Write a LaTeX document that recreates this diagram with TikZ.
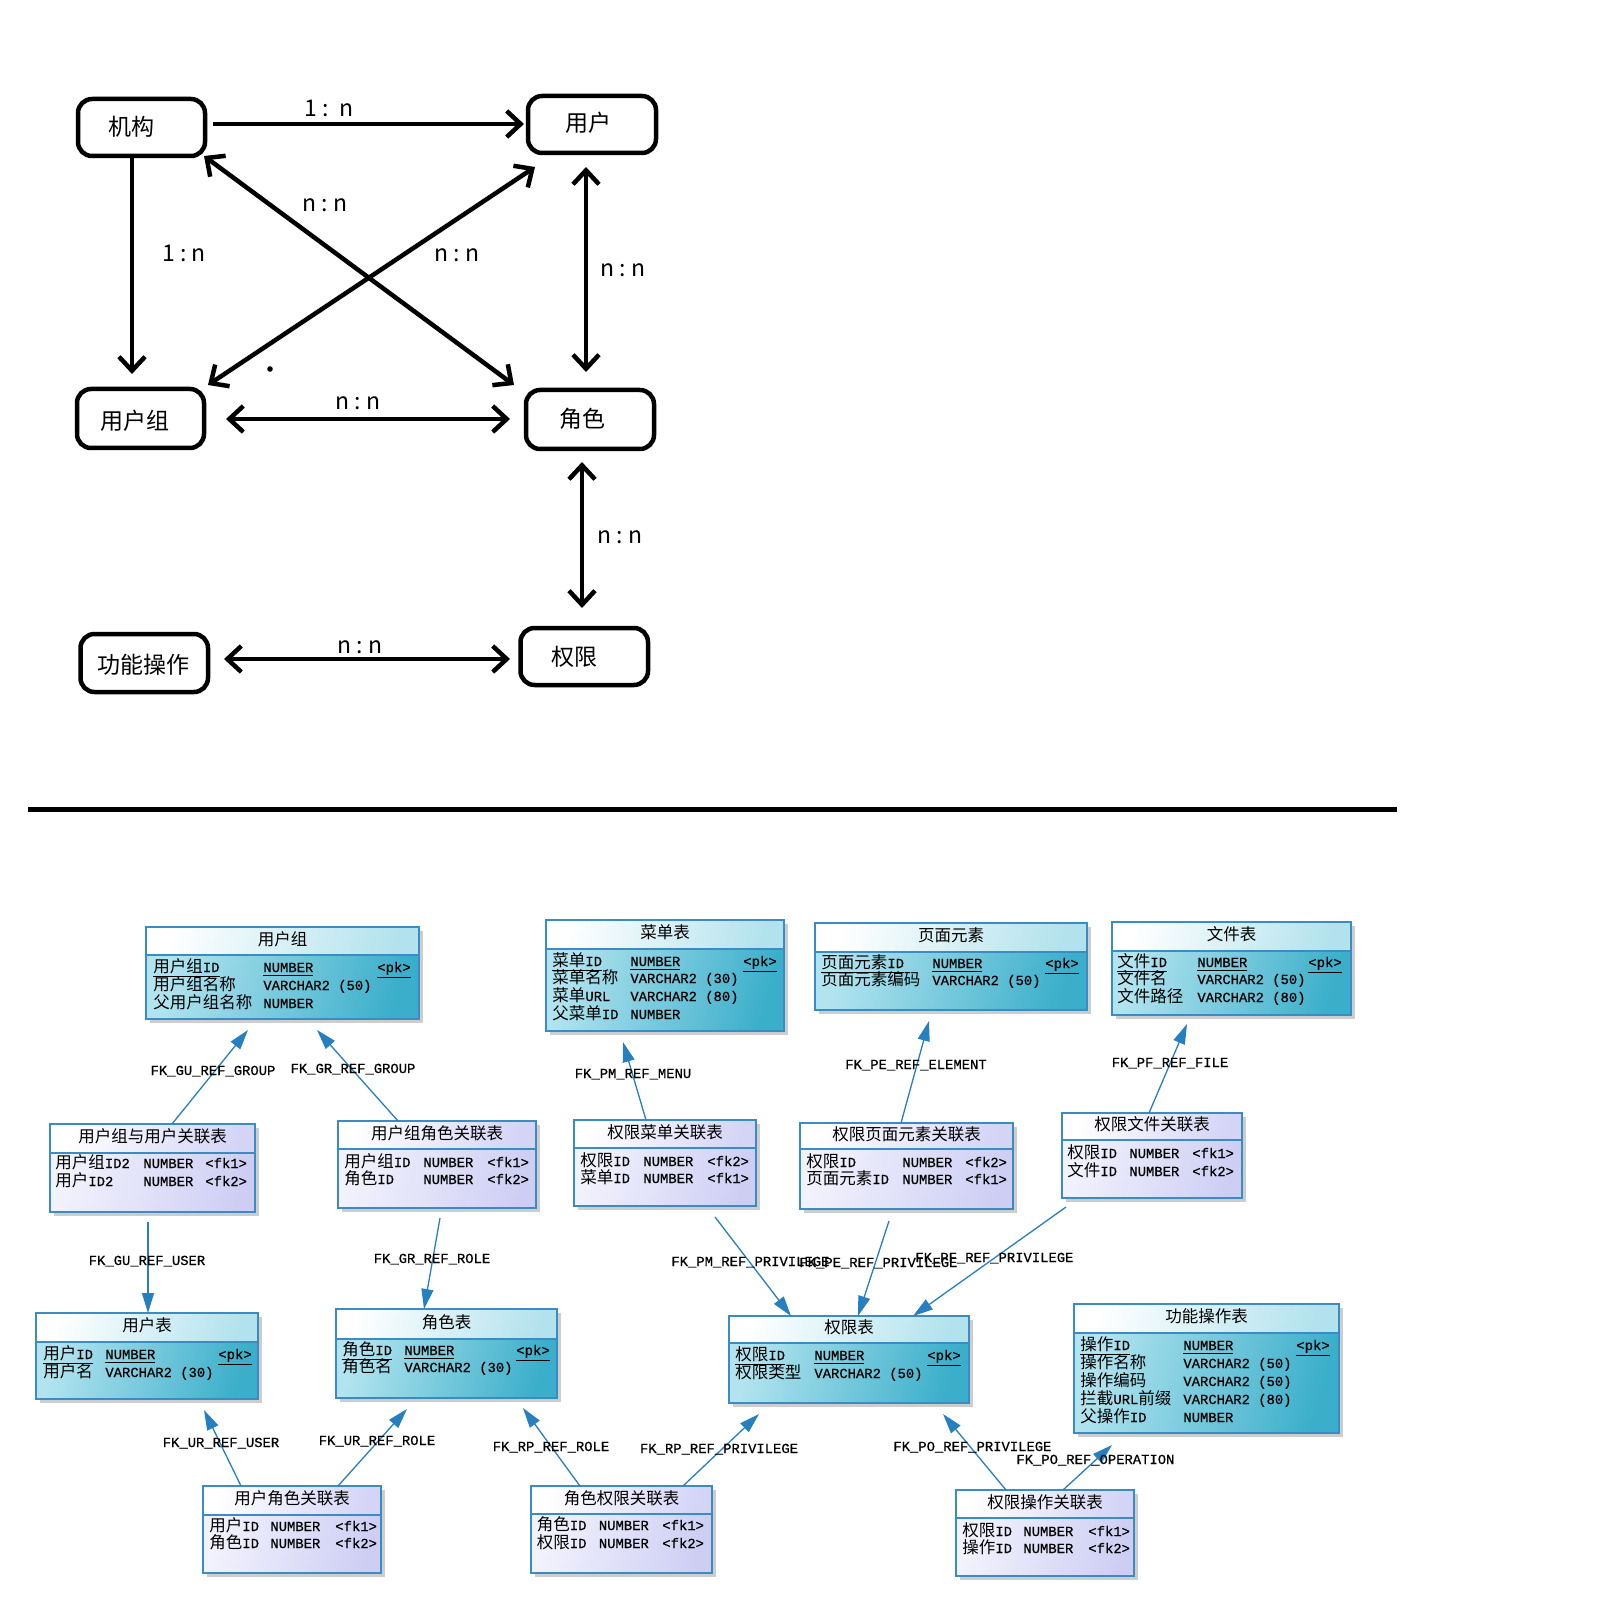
\documentclass[tikz,border=0pt]{standalone}
\usepackage{fontspec}
\setmainfont{Liberation Sans}
\newfontfamily\cjkf{Noto Sans CJK SC}
\newfontfamily\ermono[Scale=0.84,FakeBold=0.6]{Liberation Mono}
\usetikzlibrary{arrows.meta,fit}
\definecolor{erblue}{RGB}{58,140,196}
\definecolor{fkblue}{RGB}{38,128,192}
\definecolor{mainhr}{RGB}{178,226,237}
\definecolor{mainbl}{RGB}{178,228,239}
\definecolor{mainbr}{RGB}{58,174,202}
\definecolor{linkhr}{RGB}{212,212,247}
\definecolor{linkbl}{RGB}{242,242,253}
\definecolor{linkbr}{RGB}{206,206,244}
\definecolor{shadowc}{RGB}{205,205,205}
% automatic switch between CJK and Latin fonts
\chardef\CJKcls=50
\newcount\cjkc
\cjkc="4E00
\loop
\XeTeXcharclass\cjkc=\CJKcls
\advance\cjkc by 1
\ifnum\cjkc<"A000
\repeat
\def\latf{}
\XeTeXinterchartoks 0 \CJKcls = {\cjkf}
\XeTeXinterchartoks 4095 \CJKcls = {\cjkf}
\XeTeXinterchartoks \CJKcls 0 = {\latf}
\XeTeXinterchartoks \CJKcls 4095 = {\latf}
\XeTeXinterchartokenstate=1
\newcommand\erfont{\fontsize{8.25pt}{9pt}\selectfont\def\latf{\ermono}\latf}
\newcommand\topfont{\fontsize{11.5pt}{13pt}\selectfont\def\latf{\cjkf}\latf}
\newcount\cellno
\newcommand\ul[1]{\underline{#1}}
% name, left, top, right, bottom, divider, kind, title
\newcommand\ertab[8]{%
  \fill[shadowc] (#2+4,#3+4) rectangle (#4+4,#5+4);
  \shade[#7head] (#2,#3) rectangle (#4,#6);
  \shade[#7body] (#2,#6) rectangle (#4,#5);
  \node[tabframe, fit={(#2,#3) (#4,#5)}] (#1) {};
  \draw[erline] (#2,#6) -- (#4,#6);
  \node[ertitle] (#1-title) at ({(#2+#4)/2},{(#3+#6)/2-1}) {#8};
}
\newcommand\cell[3]{\global\advance\cellno by 1\relax
  \node[cell,name=cell\the\cellno] at (#1,#2) {#3};}
\newcommand\fk[3]{\coordinate (#1s) at (#2); \coordinate (#1e) at (#3);
  \draw[fkline] (#1s) -- (#1e);}
\newcommand\fkl[4][center]{\node[fklab,anchor=#1] (#2) at (#3) {#4};}
\begin{document}
\begin{tikzpicture}[x=0.5pt,y=-0.5pt,
  mybarb/.tip={Straight Barb[length=7pt,width=13pt]},
  fktip/.tip={Triangle[length=10pt,width=6pt]},
  topbox/.style={draw=black,line width=2.25pt,rounded corners=7pt,inner sep=0pt},
  toptext/.style={inner sep=0pt,font=\topfont},
  toparrow/.style={draw=black,line width=2.25pt},
  tabframe/.style={draw=erblue,line width=1pt,inner sep=0pt},
  erline/.style={draw=erblue,line width=1pt},
  mainhead/.style={left color=white,right color=mainhr,shading angle=75},
  mainbody/.style={left color=mainbl,right color=mainbr,shading angle=75},
  linkhead/.style={left color=white,right color=linkhr,shading angle=75},
  linkbody/.style={left color=linkbl,right color=linkbr,shading angle=75},
  ertitle/.style={inner sep=0pt,text height=6.5pt,text depth=1.5pt,font=\erfont},
  cell/.style={anchor=west,inner sep=0pt,text height=6.5pt,text depth=1.5pt,font=\erfont},
  fklab/.style={inner sep=0pt,text height=6.5pt,text depth=1.5pt,font=\erfont},
  fkline/.style={draw=fkblue,line width=0.65pt,-fktip},
]
\fill[white] (0,0) rectangle (1604,1604);
\useasboundingbox (0,0) rectangle (1604,1604);

% ---------------- top diagram ----------------
\node[topbox, fit={(78,99) (205,156)}] (jg) {};
\node[toptext] (jgt) at (131,127) {机构};
\node[topbox, fit={(528,96) (656,153)}] (yh) {};
\node[toptext] (yht) at (588,123) {用户};
\node[topbox, fit={(77,389) (204,448)}] (yhz) {};
\node[toptext] (yhzt) at (135,421) {用户组};
\node[topbox, fit={(526,390) (654,449)}] (js) {};
\node[toptext] (jst) at (582,419) {角色};
\node[topbox, fit={(80.5,634) (208,692)}] (gn) {};
\node[toptext] (gnt) at (143,665) {功能操作};
\node[topbox, fit={(520.5,628) (648,685)}] (qx) {};
\node[toptext] (qxt) at (574,657) {权限};

\coordinate (a1s) at (213,124); \coordinate (a1e) at (524,124);
\draw[toparrow,-mybarb] (a1s) -- (a1e);
\coordinate (a2s) at (132,158); \coordinate (a2e) at (132,374);
\draw[toparrow,-mybarb] (a2s) -- (a2e);
\coordinate (a3s) at (226,419); \coordinate (a3e) at (510,419);
\draw[toparrow,mybarb-mybarb] (a3s) -- (a3e);
\coordinate (a4s) at (204,156); \coordinate (a4e) at (514,385);
\draw[toparrow,mybarb-mybarb] (a4s) -- (a4e);
\coordinate (a5s) at (208,385); \coordinate (a5e) at (535,167);
\draw[toparrow,mybarb-mybarb] (a5s) -- (a5e);
\coordinate (a6s) at (586,167); \coordinate (a6e) at (586,372);
\draw[toparrow,mybarb-mybarb] (a6s) -- (a6e);
\coordinate (a7s) at (582,462); \coordinate (a7e) at (582,608);
\draw[toparrow,mybarb-mybarb] (a7s) -- (a7e);
\coordinate (a8s) at (224,659); \coordinate (a8e) at (510,659);
\draw[toparrow,mybarb-mybarb] (a8s) -- (a8e);
\fill (270,369) circle (1.4pt);

\node[toptext] (l1) at (329,108) {1\ :\ \ n};
\node[toptext] (l2) at (184,253) {1\ :\ n};
\node[toptext] (l3) at (358,403) {n\ :\ n};
\node[toptext] (l4) at (325,205) {n\ :\ n};
\node[toptext] (l5) at (457,255) {n\ :\ n};
\node[toptext] (l6) at (623,270) {n\ :\ n};
\node[toptext] (l7) at (620,537) {n\ :\ n};
\node[toptext] (l8) at (360,647) {n\ :\ n};

\coordinate (sepl) at (28,809.5); \coordinate (sepr) at (1397,809.5);
\draw[line width=2.75pt] (sepl) -- (sepr);

% ---------------- ER diagram ----------------
\ertab{t1}{146}{927}{419}{1019}{955}{main}{用户组}
\cell{153}{967}{\ul{用户组ID}}\cell{263}{967}{\ul{NUMBER}}\cell{377}{967}{\ul{<pk>}}
\cell{153}{985}{用户组名称}\cell{263}{985}{VARCHAR2 (50)}
\cell{153}{1003}{父用户组名称}\cell{263}{1003}{NUMBER}

\ertab{t2}{546}{920}{784}{1031}{949}{main}{菜单表}
\cell{552}{961}{\ul{菜单ID}}\cell{630}{961}{\ul{NUMBER}}\cell{743}{961}{\ul{<pk>}}
\cell{552}{978}{菜单名称}\cell{630}{978}{VARCHAR2 (30)}
\cell{552}{996}{菜单URL}\cell{630}{996}{VARCHAR2 (80)}
\cell{552}{1014}{父菜单ID}\cell{630}{1014}{NUMBER}

\ertab{t3}{815}{923}{1087}{1010}{952}{main}{页面元素}
\cell{821}{963}{\ul{页面元素ID}}\cell{932}{963}{\ul{NUMBER}}\cell{1045}{963}{\ul{<pk>}}
\cell{821}{980}{页面元素编码}\cell{932}{980}{VARCHAR2 (50)}

\ertab{t4}{1112}{922}{1351}{1015}{951}{main}{文件表}
\cell{1117}{962}{\ul{文件ID}}\cell{1197}{962}{\ul{NUMBER}}\cell{1308}{962}{\ul{<pk>}}
\cell{1117}{979}{文件名}\cell{1197}{979}{VARCHAR2 (50)}
\cell{1117}{997}{文件路径}\cell{1197}{997}{VARCHAR2 (80)}

\ertab{t5}{50}{1124}{255}{1212}{1153}{link}{用户组与用户关联表}
\cell{55}{1163}{用户组ID2}\cell{143}{1163}{NUMBER}\cell{205}{1163}{<fk1>}
\cell{55}{1181}{用户ID2}\cell{143}{1181}{NUMBER}\cell{205}{1181}{<fk2>}

\ertab{t6}{338}{1121}{536}{1208}{1149}{link}{用户组角色关联表}
\cell{344}{1162}{用户组ID}\cell{423}{1162}{NUMBER}\cell{487}{1162}{<fk1>}
\cell{344}{1179}{角色ID}\cell{423}{1179}{NUMBER}\cell{487}{1179}{<fk2>}

\ertab{t7}{574}{1120}{756}{1206}{1148}{link}{权限菜单关联表}
\cell{580}{1161}{权限ID}\cell{643}{1161}{NUMBER}\cell{707}{1161}{<fk2>}
\cell{580}{1178}{菜单ID}\cell{643}{1178}{NUMBER}\cell{707}{1178}{<fk1>}

\ertab{t8}{800}{1123}{1013}{1209}{1149}{link}{权限页面元素关联表}
\cell{806}{1162}{权限ID}\cell{902}{1162}{NUMBER}\cell{965}{1162}{<fk2>}
\cell{806}{1179}{页面元素ID}\cell{902}{1179}{NUMBER}\cell{965}{1179}{<fk1>}

\ertab{t9}{1062}{1113}{1242}{1198}{1140}{link}{权限文件关联表}
\cell{1067}{1153}{权限ID}\cell{1129}{1153}{NUMBER}\cell{1192}{1153}{<fk1>}
\cell{1067}{1171}{文件ID}\cell{1129}{1171}{NUMBER}\cell{1192}{1171}{<fk2>}

\ertab{t10}{36}{1313}{258}{1399}{1342}{main}{用户表}
\cell{43}{1354}{\ul{用户ID}}\cell{105}{1354}{\ul{NUMBER}}\cell{218}{1354}{\ul{<pk>}}
\cell{43}{1372}{用户名}\cell{105}{1372}{VARCHAR2 (30)}

\ertab{t11}{336}{1309}{557}{1398}{1339}{main}{角色表}
\cell{342}{1350}{\ul{角色ID}}\cell{404}{1350}{\ul{NUMBER}}\cell{516}{1350}{\ul{<pk>}}
\cell{342}{1367}{角色名}\cell{404}{1367}{VARCHAR2 (30)}

\ertab{t12}{729}{1316}{969}{1403}{1343}{main}{权限表}
\cell{735}{1355}{\ul{权限ID}}\cell{814}{1355}{\ul{NUMBER}}\cell{927}{1355}{\ul{<pk>}}
\cell{735}{1373}{权限类型}\cell{814}{1373}{VARCHAR2 (50)}

\ertab{t13}{1074}{1304}{1339}{1433}{1333}{main}{功能操作表}
\cell{1080}{1345}{\ul{操作ID}}\cell{1183}{1345}{\ul{NUMBER}}\cell{1296}{1345}{\ul{<pk>}}
\cell{1080}{1363}{操作名称}\cell{1183}{1363}{VARCHAR2 (50)}
\cell{1080}{1381}{操作编码}\cell{1183}{1381}{VARCHAR2 (50)}
\cell{1080}{1399}{拦截URL前缀}\cell{1183}{1399}{VARCHAR2 (80)}
\cell{1080}{1417}{父操作ID}\cell{1183}{1417}{NUMBER}

\ertab{t14}{203}{1486}{381}{1573}{1515}{link}{用户角色关联表}
\cell{209}{1526}{用户ID}\cell{270}{1526}{NUMBER}\cell{335}{1526}{<fk1>}
\cell{209}{1543}{角色ID}\cell{270}{1543}{NUMBER}\cell{335}{1543}{<fk2>}

\ertab{t15}{531}{1486}{712}{1573}{1514}{link}{角色权限关联表}
\cell{536.5}{1525}{角色ID}\cell{598.5}{1525}{NUMBER}\cell{662}{1525}{<fk1>}
\cell{536.5}{1543}{权限ID}\cell{598.5}{1543}{NUMBER}\cell{662}{1543}{<fk2>}

\ertab{t16}{956}{1490}{1134}{1576}{1518}{link}{权限操作关联表}
\cell{962}{1531}{权限ID}\cell{1023}{1531}{NUMBER}\cell{1088}{1531}{<fk1>}
\cell{962}{1548}{操作ID}\cell{1023}{1548}{NUMBER}\cell{1088}{1548}{<fk2>}

% connectors
\fk{c1}{172,1124}{248,1030}
\fk{c2}{398,1121}{317,1030}
\fk{c3}{646,1120}{623,1042}
\fk{c4}{901,1123}{929,1021}
\fk{c5}{1149,1113}{1187,1024}
\fk{c6}{148,1222}{148,1313}
\fk{c7}{440,1218}{424,1309}
\fk{c8}{715,1217}{791,1316}
\fk{c9}{889,1221}{858,1316}
\fk{c10}{1066,1207}{913,1316}
\fk{c11}{241,1486}{204,1410}
\fk{c12}{338,1486}{407,1409}
\fk{c13}{580,1486}{523,1408}
\fk{c14}{683,1486}{759,1414}
\fk{c15}{1006,1490}{943,1414}
\fk{c16}{1063,1490}{1112,1445}

\fkl{f1}{213,1070}{FK\_GU\_REF\_GROUP}
\fkl{f2}{353,1068}{FK\_GR\_REF\_GROUP}
\fkl{f3}{633,1073}{FK\_PM\_REF\_MENU}
\fkl{f4}{916,1064}{FK\_PE\_REF\_ELEMENT}
\fkl{f5}{1170,1062}{FK\_PF\_REF\_FILE}
\fkl{f6}{147,1260}{FK\_GU\_REF\_USER}
\fkl{f7}{432,1258}{FK\_GR\_REF\_ROLE}
\fkl[west]{f8}{671,1261}{FK\_PM\_REF\_PRIVILEGE}
\fkl[west]{f9}{799,1262}{FK\_PE\_REF\_PRIVILEGE}
\fkl[west]{f10}{915,1257}{FK\_PF\_REF\_PRIVILEGE}
\fkl{f11}{221,1442}{FK\_UR\_REF\_USER}
\fkl{f12}{377,1440}{FK\_UR\_REF\_ROLE}
\fkl{f13}{551,1446}{FK\_RP\_REF\_ROLE}
\fkl{f14}{719,1448}{FK\_RP\_REF\_PRIVILEGE}
\fkl[west]{f15}{893,1446}{FK\_PO\_REF\_PRIVILEGE}
\fkl[west]{f16}{1016,1459}{FK\_PO\_REF\_OPERATION}
\end{tikzpicture}
\end{document}
